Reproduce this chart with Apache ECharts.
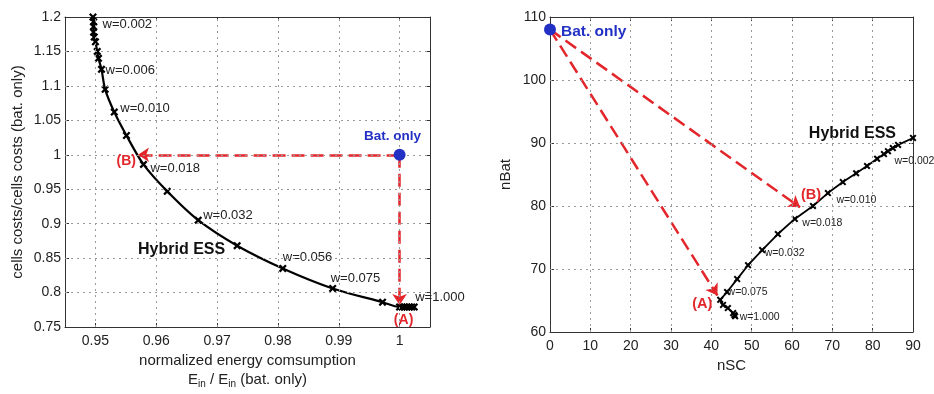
<!DOCTYPE html>
<html>
<head>
<meta charset="utf-8">
<script src="https://cdn.jsdelivr.net/npm/echarts@6/dist/echarts.min.js"></script>
<style>
  html, body { margin: 0; padding: 0; background: #fff; }
  #chart { width: 934px; height: 394px; }
</style>
</head>
<body>
<div id="chart"></div>
<script>
// ---- Left panel: normalized energy vs. normalized cell costs ----
const leftX = [0.9496, 0.9497, 0.9497, 0.9497, 0.9498, 0.9500, 0.9503, 0.9505, 0.9510, 0.9516,
               0.9531, 0.9551, 0.9579, 0.9618, 0.9669, 0.9733, 0.9808, 0.9890, 0.9972, 1.0000,
               1.0004, 1.0008, 1.0012, 1.0016, 1.0020, 1.0024];
const leftY = [1.200, 1.193, 1.186, 1.178, 1.171, 1.164, 1.150, 1.140, 1.124, 1.095,
               1.062, 1.028, 0.986, 0.947, 0.905, 0.868, 0.835, 0.806, 0.786, 0.779,
               0.779, 0.779, 0.779, 0.779, 0.779, 0.779];
const leftXTicks = [0.95, 0.96, 0.97, 0.98, 0.99, 1.0];
const leftYTicks = [0.75, 0.8, 0.85, 0.9, 0.95, 1.0, 1.05, 1.1, 1.15, 1.2];
const leftWeightIdx = [1, 8, 10, 12, 14, 16, 17, 25];
const leftWeightText = ['w=0.002', 'w=0.006', 'w=0.010', 'w=0.018', 'w=0.032', 'w=0.056', 'w=0.075', 'w=1.000'];
const leftBatOnly = [1.0, 1.0];
const leftTipA = [1.0, 0.782];
const leftTipB = [0.957, 1.0];

// ---- Right panel: number of supercapacitor cells vs. battery cells ----
const rightX = [90.0, 86.3, 85.0, 83.8, 82.8, 81.1, 78.6, 75.9, 72.6, 68.9,
                65.2, 60.7, 56.5, 52.6, 49.1, 46.4, 43.9, 42.2, 42.9, 44.1,
                45.4, 45.7, 45.9];
const rightY = [90.8, 89.7, 89.2, 88.7, 88.25, 87.5, 86.35, 85.2, 83.8, 82.05,
                80.0, 77.95, 75.55, 73.0, 70.6, 68.4, 66.35, 65.1, 64.3, 63.8,
                63.0, 62.7, 62.5];
const rightXTicks = [0, 10, 20, 30, 40, 50, 60, 70, 80, 90];
const rightYTicks = [60, 70, 80, 90, 100, 110];
const rightWeightIdx = [4, 9, 11, 13, 16, 22];
const rightWeightText = ['w=0.002', 'w=0.010', 'w=0.018', 'w=0.032', 'w=0.075', 'w=1.000'];
const rightBatOnly = [0, 108];
const rightTipA = [41.5, 65.8];
const rightTipB = [62, 79.8];

const FONT = 'Liberation Sans, Arial, Helvetica, sans-serif';
const RED = '#e3262b';
const BLUE = '#2231c4';
const TXT = '#222';

// X-shaped marker drawn as a filled polygon
const CROSS = 'path://M0,2L2,0L5,3L8,0L10,2L7,5L10,8L8,10L5,7L2,10L0,8L3,5Z';

function fmt(v) { return String(+(+v).toFixed(2)); }

function boxAxes(kind, grid, min, max, ticks, withLabels) {
  // two axes per direction so the frame and inward ticks appear on all four sides
  const sides = kind === 'x' ? ['bottom', 'top'] : ['left', 'right'];
  return sides.map((pos, i) => ({
    type: 'value', gridIndex: grid, position: pos, min: min, max: max,
    axisLine: { show: true, onZero: false, lineStyle: { color: '#333', width: 1 } },
    axisTick: { show: true, inside: true, length: 4, customValues: ticks, lineStyle: { color: '#333' } },
    axisLabel: {
      show: withLabels && i === 0, customValues: ticks, formatter: fmt,
      color: TXT, fontSize: 14, fontFamily: FONT, margin: kind === 'x' ? 7 : 4
    },
    splitLine: { show: false }
  }));
}

function gridLines(xTicks, yTicks, xr, yr) {
  const d = [];
  xTicks.filter(v => v > xr[0] && v < xr[1]).forEach(v => d.push({ xAxis: v }));
  yTicks.filter(v => v > yr[0] && v < yr[1]).forEach(v => d.push({ yAxis: v }));
  return d;
}

function curveData(xs, ys, idx, texts, offsets, fontSize) {
  return xs.map((x, i) => {
    const item = { value: [x, ys[i]] };
    const k = idx.indexOf(i);
    if (k >= 0) {
      item.label = {
        show: true, position: 'right', offset: offsets[k], formatter: texts[k],
        color: TXT, fontSize: fontSize, fontFamily: FONT
      };
    }
    return item;
  });
}

const leftOffsets = [[0, 3], [-5, 1], [-3, -4], [-2, 4], [-4, -5], [-9, -11], [-11, -10], [-8, -10]];
const rightOffsets = [[2, 7], [0, 7], [-1, 4], [-6, 3], [-8, 0], [-4, 1]];

const xAxes = [
  ...boxAxes('x', 0, 0.945, 1.005, leftXTicks, true),
  ...boxAxes('x', 1, 0, 90, rightXTicks, true)
];
const yAxes = [
  ...boxAxes('y', 0, 0.75, 1.2, leftYTicks, true),
  ...boxAxes('y', 1, 60, 110, rightYTicks, true)
];

Object.assign(xAxes[0], {
  name: '{t|normalized energy comsumption}\n{t|E}{s|in}{t| / E}{s|in}{t| (bat. only)}',
  nameLocation: 'middle', nameGap: 24,
  nameTextStyle: {
    rich: {
      t: { fontSize: 15, color: TXT, fontFamily: FONT, lineHeight: 19 },
      s: { fontSize: 10, color: TXT, fontFamily: FONT, lineHeight: 19, verticalAlign: 'bottom', padding: [6, 0, 0, 0] }
    }
  }
});
Object.assign(xAxes[2], {
  name: 'nSC', nameLocation: 'middle', nameGap: 23,
  nameTextStyle: { fontSize: 15, color: TXT, fontFamily: FONT }
});
Object.assign(yAxes[0], {
  name: 'cells costs/cells costs (bat. only)', nameLocation: 'middle', nameGap: 40,
  nameTextStyle: { fontSize: 15, color: TXT, fontFamily: FONT }
});
Object.assign(yAxes[2], {
  name: 'nBat', nameLocation: 'middle', nameGap: 37,
  nameTextStyle: { fontSize: 15, color: TXT, fontFamily: FONT }
});

const gridStyle = { type: [2, 4], color: '#9a9a9a', width: 1 };

function arrowSeries(xi, yi, from, tips) {
  return {
    type: 'lines', coordinateSystem: 'cartesian2d', xAxisIndex: xi, yAxisIndex: yi,
    z: 4, silent: true,
    symbol: ['none', 'arrow'], symbolSize: 11,
    lineStyle: { color: RED, width: 2.5, type: [13, 6], opacity: 1 },
    data: tips.map(t => ({ coords: [from, t] }))
  };
}

function tagSeries(xi, yi, pts, texts, positions, offsets, sizes) {
  return {
    type: 'scatter', xAxisIndex: xi, yAxisIndex: yi, symbolSize: 0, z: 6, silent: true,
    itemStyle: { opacity: 1 },
    data: pts.map((p, i) => ({
      value: p,
      label: {
        show: true, formatter: texts[i], position: positions[i], offset: offsets[i],
        color: RED, fontSize: sizes[i], fontWeight: 'bold', fontFamily: FONT
      }
    }))
  };
}

const option = {
  backgroundColor: '#fff',
  animation: false,
  grid: [
    { left: 65, top: 17, width: 365, height: 313 },
    { left: 550, top: 17, width: 363, height: 315 }
  ],
  xAxis: xAxes,
  yAxis: yAxes,
  series: [
    // dotted grid, left panel
    {
      type: 'line', xAxisIndex: 0, yAxisIndex: 0, data: [], z: 1, silent: true,
      markLine: {
        silent: true, symbol: ['none', 'none'], label: { show: false },
        lineStyle: gridStyle, animation: false,
        data: gridLines(leftXTicks, leftYTicks, [0.945, 1.005], [0.75, 1.2])
      }
    },
    // dotted grid, right panel
    {
      type: 'line', xAxisIndex: 2, yAxisIndex: 2, data: [], z: 1, silent: true,
      markLine: {
        silent: true, symbol: ['none', 'none'], label: { show: false },
        lineStyle: gridStyle, animation: false,
        data: gridLines(rightXTicks, rightYTicks, [0, 90], [60, 110])
      }
    },
    // Hybrid ESS front, left panel
    {
      type: 'line', xAxisIndex: 0, yAxisIndex: 0, z: 3, smooth: 0.3,
      symbol: CROSS, symbolSize: 8, showAllSymbol: true, clip: false,
      lineStyle: { color: '#000', width: 2.2 },
      itemStyle: { color: '#000' },
      data: curveData(leftX, leftY, leftWeightIdx, leftWeightText, leftOffsets, 13)
    },
    // Hybrid ESS front, right panel
    {
      type: 'line', xAxisIndex: 2, yAxisIndex: 2, z: 3,
      symbol: CROSS, symbolSize: 7, showAllSymbol: true, clip: false,
      lineStyle: { color: '#000', width: 1.8 },
      itemStyle: { color: '#000' },
      data: curveData(rightX, rightY, rightWeightIdx, rightWeightText, rightOffsets, 10.5)
    },
    arrowSeries(0, 0, leftBatOnly, [leftTipB, leftTipA]),
    arrowSeries(2, 2, rightBatOnly, [rightTipB, rightTipA]),
    // battery-only reference points
    {
      type: 'scatter', xAxisIndex: 0, yAxisIndex: 0, z: 5, symbolSize: 12,
      itemStyle: { color: BLUE, opacity: 1 },
      label: { show: true, formatter: 'Bat. only', position: 'top', offset: [-7, 0],
               color: BLUE, fontSize: 13.5, fontWeight: 'bold', fontFamily: FONT },
      data: [leftBatOnly]
    },
    {
      type: 'scatter', xAxisIndex: 2, yAxisIndex: 2, z: 5, symbolSize: 12, clip: false,
      itemStyle: { color: BLUE, opacity: 1 },
      label: { show: true, formatter: 'Bat. only', position: 'right', offset: [0, 2],
               color: BLUE, fontSize: 15.5, fontWeight: 'bold', fontFamily: FONT },
      data: [rightBatOnly]
    },
    tagSeries(0, 0, [leftTipA, leftTipB], ['(A)', '(B)'], ['bottom', 'left'], [[4, 3], [3, 6]], [14, 14]),
    tagSeries(2, 2, [rightTipA, rightTipB], ['(A)', '(B)'], ['left', 'top'], [[0, 9], [11, 0]], [14.5, 14.5]),
    // "Hybrid ESS" captions next to the fronts
    {
      type: 'scatter', xAxisIndex: 0, yAxisIndex: 0, symbolSize: 0, z: 6, silent: true,
      itemStyle: { opacity: 1 },
      label: { show: true, formatter: 'Hybrid ESS', position: 'left', offset: [-7, 4],
               color: '#111', fontSize: 16, fontWeight: 'bold', fontFamily: FONT },
      data: [[leftX[15], leftY[15]]]
    },
    {
      type: 'scatter', xAxisIndex: 2, yAxisIndex: 2, symbolSize: 0, z: 6, silent: true,
      itemStyle: { opacity: 1 },
      label: { show: true, formatter: 'Hybrid ESS', position: 'left', offset: [-12, -4],
               color: '#111', fontSize: 16, fontWeight: 'bold', fontFamily: FONT },
      data: [[rightX[0], rightY[0]]]
    }
  ]
};

const chart = echarts.init(document.getElementById('chart'), null, { renderer: 'canvas' });
chart.setOption(option);
</script>
</body>
</html>
